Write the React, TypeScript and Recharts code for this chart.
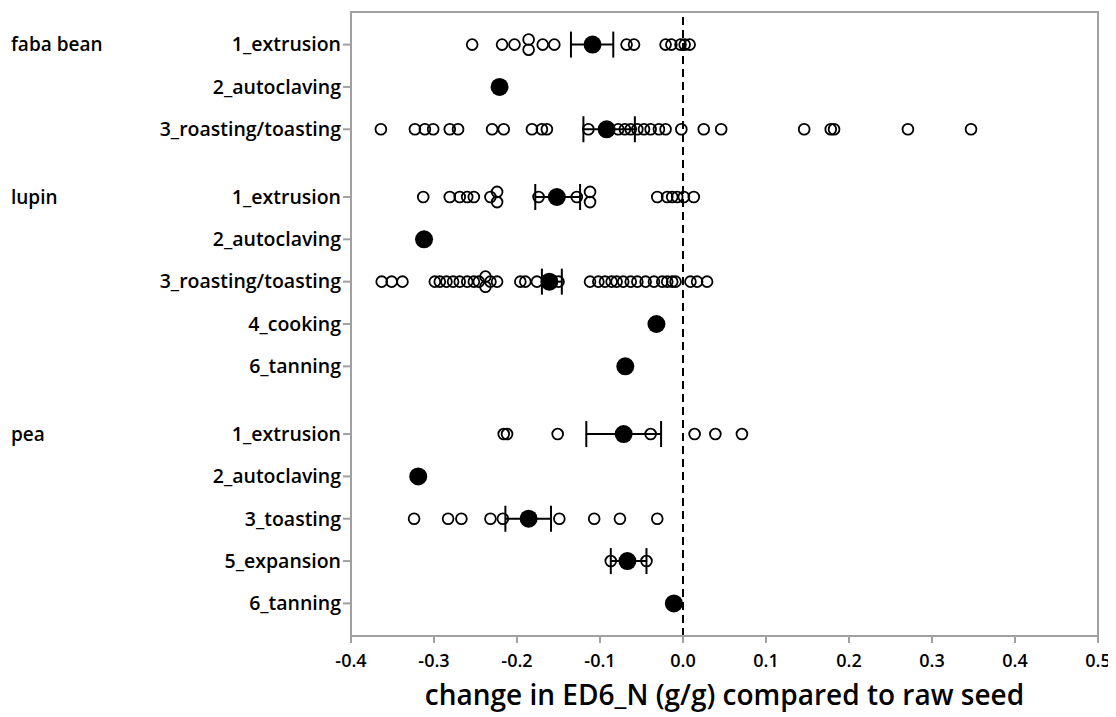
import {
  ErrorBar,
  ReferenceArea,
  ReferenceLine,
  Scatter,
  ScatterChart,
  XAxis,
  YAxis,
} from 'recharts';

const FONT = '"Open Sans", "Noto Sans", sans-serif';
const FRAME = '#a0a0a0';

// row labels, top to bottom
const PROCESS_LABELS = [
  '1_extrusion', '2_autoclaving', '3_roasting/toasting',
  '1_extrusion', '2_autoclaving', '3_roasting/toasting', '4_cooking', '6_tanning',
  '1_extrusion', '2_autoclaving', '3_toasting', '5_expansion', '6_tanning',
];
const GROUP_LABELS = ['faba bean', 'lupin', 'pea'];
const GROUP_FIRST_ROW = [0, 3, 8];
// row positions on the category axis (groups separated by a wider gap)
const ROW_POS = [0, 1, 2, 3.6, 4.6, 5.6, 6.6, 7.6, 9.2, 10.2, 11.2, 12.2, 13.2];

const X_TICKS = [-0.4, -0.3, -0.2, -0.1, 0, 0.1, 0.2, 0.3, 0.4, 0.5];

// individual observations per row
const fabaExtrusion = [-0.254, -0.218, -0.203, -0.169, -0.155, -0.068, -0.059, -0.021, -0.014, -0.003, 0.002, 0.008];
const fabaAutoclaving: number[] = [];
const fabaRoasting = [
  -0.364, -0.323, -0.311, -0.301, -0.281, -0.271, -0.23, -0.216, -0.182, -0.17, -0.164,
  -0.114, -0.078, -0.07, -0.063, -0.055, -0.047, -0.039, -0.029, -0.021, -0.002,
  0.025, 0.046, 0.146, 0.178, 0.182, 0.271, 0.347,
];
const lupinExtrusion = [
  -0.313, -0.281, -0.269, -0.26, -0.252, -0.232, -0.174, -0.128,
  -0.031, -0.019, -0.013, -0.007, 0.001, 0.013,
];
const lupinAutoclaving: number[] = [];
const lupinRoasting = [
  -0.363, -0.351, -0.338, -0.299, -0.293, -0.285, -0.277, -0.269, -0.26, -0.252, -0.246,
  -0.232, -0.224, -0.196, -0.19, -0.176, -0.15, -0.112, -0.102, -0.094, -0.086, -0.08,
  -0.072, -0.063, -0.055, -0.045, -0.035, -0.025, -0.019, -0.013, -0.009, 0.009, 0.017, 0.029,
];
const lupinCooking: number[] = [];
const lupinTanning: number[] = [];
const peaExtrusion = [-0.216, -0.212, -0.151, -0.039, 0.014, 0.039, 0.071];
const peaAutoclaving: number[] = [];
const peaToasting = [-0.324, -0.283, -0.267, -0.232, -0.217, -0.149, -0.107, -0.076, -0.031];
const peaExpansion = [-0.087, -0.044];
const peaTanning: number[] = [];

const OBSERVATIONS = [
  fabaExtrusion, fabaAutoclaving, fabaRoasting,
  lupinExtrusion, lupinAutoclaving, lupinRoasting, lupinCooking, lupinTanning,
  peaExtrusion, peaAutoclaving, peaToasting, peaExpansion, peaTanning,
];

// tied values drawn as a pair, one above and one below the row
const STACKED: number[][] = [
  [-0.186], [], [],
  [-0.224, -0.112], [], [-0.238], [], [],
  [], [], [], [], [],
];

// group means with confidence interval (null = no interval)
const MEANS = [-0.109, -0.221, -0.092, -0.152, -0.312, -0.161, -0.032, -0.0695, -0.0715, -0.319, -0.186, -0.067, -0.011];
const CI_LOW = [-0.135, null, -0.12, -0.178, null, -0.17, null, null, -0.1165, null, -0.214, -0.087, null];
const CI_HIGH = [-0.084, null, -0.058, -0.124, null, -0.146, null, null, -0.0264, null, -0.159, -0.044, null];

const JITTER = 0.12;

const openPoints = OBSERVATIONS.flatMap((vals, i) => [
  ...vals.map((v) => ({ x: v, y: ROW_POS[i] })),
  ...STACKED[i].flatMap((v) => [
    { x: v, y: ROW_POS[i] - JITTER },
    { x: v, y: ROW_POS[i] + JITTER },
  ]),
]);

const meansWithCi = MEANS.map((m, i) => ({ m, i }))
  .filter(({ i }) => CI_LOW[i] != null)
  .map(({ m, i }) => ({ x: m, y: ROW_POS[i], err: [m - (CI_LOW[i] as number), (CI_HIGH[i] as number) - m] }));

const meansOnly = MEANS.map((m, i) => ({ m, i }))
  .filter(({ i }) => CI_LOW[i] == null)
  .map(({ m, i }) => ({ x: m, y: ROW_POS[i] }));

const OpenDot = (props: any) => (
  <circle cx={props.cx} cy={props.cy} r={5.4} fill="none" stroke="#000" strokeWidth={1.8} />
);

const MeanDot = (props: any) => <circle cx={props.cx} cy={props.cy} r={9} fill="#000" />;

const YTick = (props: any) => {
  const { x, y, payload } = props;
  const row = ROW_POS.indexOf(payload.value);
  const g = GROUP_FIRST_ROW.indexOf(row);
  return (
    <g>
      <text x={x} y={y} dy="0.35em" textAnchor="end" fill="#000" fontSize={19.5} fontWeight={600} fontFamily={FONT}>
        {PROCESS_LABELS[row]}
      </text>
      {g >= 0 && (
        <text x={3} y={y} dy="0.35em" textAnchor="start" fill="#000" fontSize={19} fontWeight={600} fontFamily={FONT}>
          {GROUP_LABELS[g]}
        </text>
      )}
    </g>
  );
};

export default function App() {
  return (
    <ScatterChart width={1108} height={709} margin={{ top: 4, right: 18, bottom: 0, left: 0 }}>
      <ReferenceArea
        x1={-0.4}
        x2={0.5}
        y1={-0.77}
        y2={13.97}
        fill="none"
        stroke={FRAME}
        strokeWidth={2}
        fillOpacity={0}
      />
      <XAxis
        type="number"
        dataKey="x"
        domain={[-0.4, 0.5]}
        ticks={X_TICKS}
        interval={0}
        allowDataOverflow
        tickFormatter={(v: number) => v.toFixed(1)}
        height={81}
        tickSize={7}
        tickMargin={11}
        axisLine={{ stroke: FRAME, strokeWidth: 2 }}
        tickLine={{ stroke: FRAME, strokeWidth: 2 }}
        tick={{ fill: '#000', fontSize: 18, fontWeight: 600, fontFamily: FONT }}
        label={{
          value: 'change in ED6_N (g/g) compared to raw seed',
          position: 'insideBottom',
          offset: 12,
          fill: '#000',
          fontSize: 28,
          fontWeight: 600,
          fontFamily: FONT,
        }}
      />
      <YAxis
        type="number"
        dataKey="y"
        domain={[-0.77, 13.97]}
        reversed
        ticks={ROW_POS}
        interval={0}
        allowDataOverflow
        width={343}
        tickSize={8}
        tickMargin={2}
        axisLine={{ stroke: FRAME, strokeWidth: 2 }}
        tickLine={{ stroke: FRAME, strokeWidth: 2 }}
        tick={YTick}
      />
      <ReferenceLine x={0} stroke="#000" strokeWidth={2} strokeDasharray="8 5" />
      <Scatter data={openPoints} shape={OpenDot} isAnimationActive={false} />
      <Scatter data={meansOnly} shape={MeanDot} isAnimationActive={false} />
      <Scatter data={meansWithCi} shape={MeanDot} isAnimationActive={false}>
        <ErrorBar dataKey="err" direction="x" width={13} stroke="#000" strokeWidth={2} />
      </Scatter>
    </ScatterChart>
  );
}
